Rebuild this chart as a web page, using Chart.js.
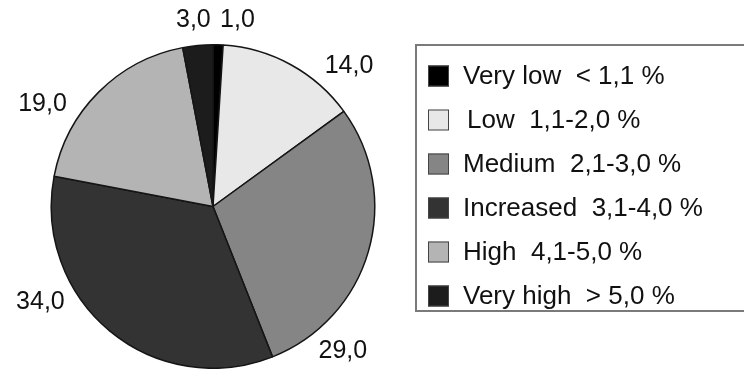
<!DOCTYPE html>
<html>
<head>
<meta charset="utf-8">
<script src="https://cdn.jsdelivr.net/npm/chart.js@4/dist/chart.umd.min.js"></script>
<style>
  html, body { margin: 0; padding: 0; background: #ffffff; }
  #wrap { width: 744px; height: 369px; }
</style>
</head>
<body>
<div id="wrap"><canvas id="pie" width="744" height="369"></canvas></div>
<script>
// Share of each risk class, percent
const categories = ['Very low', 'Low', 'Medium', 'Increased', 'High', 'Very high'];
const ranges = ['< 1,1 %', '1,1-2,0 %', '2,1-3,0 %', '3,1-4,0 %', '4,1-5,0 %', '> 5,0 %'];
const shares = [1.0, 14.0, 29.0, 34.0, 19.0, 3.0];

// Slice fills (greyscale)
const fills = ['#000000', '#e8e8e8', '#858585', '#333333', '#b4b4b4', '#1c1c1c'];

// Where each value label sits: clockwise angle from 12 o'clock (deg) and distance as a multiple of the radius
const labelAngle = [7.5, 44, 138, 241, 301, 354];
const labelDist = [1.16, 1.21, 1.20, 1.22, 1.23, 1.16];

const FONT = '"Liberation Sans", Arial, sans-serif';

const valueLabels = {
  id: 'valueLabels',
  afterDatasetsDraw(chart) {
    const meta = chart.getDatasetMeta(0);
    const arc0 = meta.data[0];
    if (!arc0) return;
    const cx = arc0.x, cy = arc0.y, r = arc0.outerRadius;
    const ctx = chart.ctx;
    ctx.save();
    ctx.font = '25px ' + FONT;
    ctx.fillStyle = '#111111';
    ctx.textAlign = 'center';
    ctx.textBaseline = 'middle';
    chart.data.datasets[0].data.forEach((v, i) => {
      const a = labelAngle[i] * Math.PI / 180;
      const d = r * labelDist[i];
      const x = cx + d * Math.sin(a);
      const y = cy - d * Math.cos(a);
      ctx.fillText(v.toFixed(1).replace('.', ','), x, y);
    });
    ctx.restore();
  }
};

const boxedLegend = {
  id: 'boxedLegend',
  afterDraw(chart) {
    const ctx = chart.ctx;
    const left = 416, top = 45, bottom = 311;
    ctx.save();
    ctx.strokeStyle = '#7a7a7a';
    ctx.lineWidth = 2;
    ctx.strokeRect(left, top, chart.width - left + 10, bottom - top);

    const ds = chart.data.datasets[0];
    const rowTop = 76, rowStep = 44, sw = 21;
    ctx.font = '26px ' + FONT;
    ctx.textBaseline = 'middle';
    ctx.textAlign = 'left';
    chart.data.labels.forEach((lab, i) => {
      const y = rowTop + i * rowStep;
      ctx.fillStyle = ds.backgroundColor[i];
      ctx.fillRect(428, y - sw / 2, sw, sw);
      ctx.strokeStyle = '#444444';
      ctx.lineWidth = 1;
      ctx.strokeRect(428.5, y - sw / 2 + 0.5, sw - 1, sw - 1);
      ctx.fillStyle = '#111111';
      const pad = i === 1 ? 467 : 463;
      ctx.fillText(lab + '  ' + ranges[i], pad, y + 1);
    });
    ctx.restore();
  }
};

new Chart(document.getElementById('pie'), {
  type: 'pie',
  data: {
    labels: categories,
    datasets: [{
      data: shares,
      backgroundColor: fills,
      borderColor: '#151515',
      borderWidth: 1.5
    }]
  },
  options: {
    responsive: false,
    animation: false,
    layout: { padding: { left: 50, right: 368, top: 44, bottom: 0 } },
    plugins: {
      legend: { display: false },
      tooltip: { enabled: false }
    }
  },
  plugins: [valueLabels, boxedLegend]
});
</script>
</body>
</html>
